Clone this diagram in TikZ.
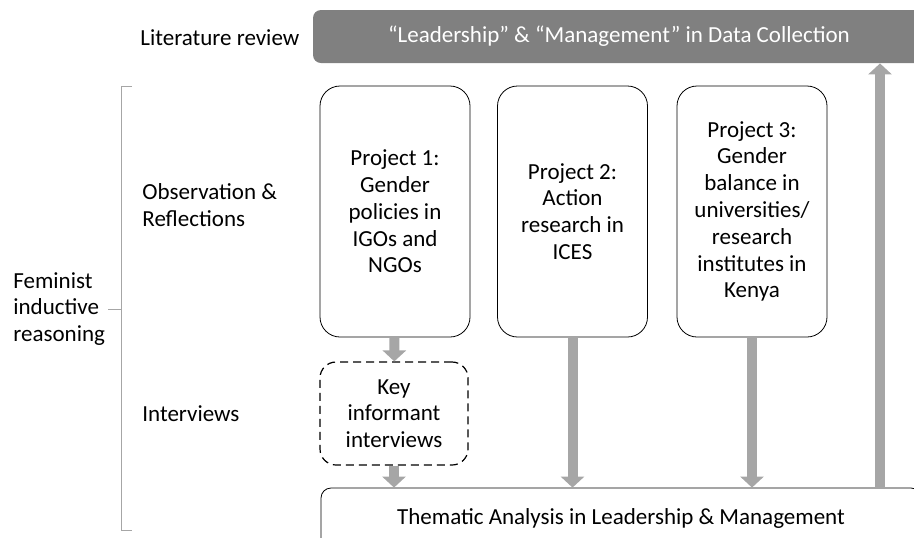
\documentclass[tikz,border=0pt]{standalone}
\usepackage{fontspec}
\setmainfont{Carlito}
\usetikzlibrary{arrows.meta}

\tikzset{
  proj/.style={draw, rounded corners=10pt, minimum width=75pt,
    minimum height=125.5pt, align=center, inner sep=0pt},
  stage/.style={anchor=west, align=left, inner sep=0pt},
  flow/.style={line width=5pt, draw=black!35,
    -{Triangle[width=11.5pt,length=5.5pt]}}
}

\begin{document}
\begin{tikzpicture}[x=0.5pt, y=-0.5pt, font=\fontsize{11.5}{13.4}\selectfont]
  \useasboundingbox (0,0) rectangle (914,537);
  \clip (0,0) rectangle (914,537);

  % top and bottom bands
  \node[fill=black!50, text=white, rounded corners=4pt, minimum width=306pt,
    minimum height=26.5pt, inner sep=0pt] (lit) at (619,36.5)
    {“Leadership” \& “Management” in Data Collection};
  \node[draw, rounded corners=5pt, minimum width=300pt, minimum height=30pt,
    inner sep=0pt] (thema) at (621,518)
    {Thematic Analysis in Leadership \& Management};

  % row labels
  \node[stage] (litrev) at (140,38) {Literature review};
  \node[stage] (obs) at (142,205) {Observation \&\\Reflections};
  \node[stage] (intv) at (142,414) {Interviews};
  \node[stage] (fir) at (13,309) {Feminist\\inductive\\reasoning};

  % projects
  \node[proj] (p1) at (395,211.5) {Project 1:\\Gender\\policies in\\IGOs and\\NGOs};
  \node[proj] (p2) at (572.5,211.5) {Project 2:\\Action\\research in\\ICES};
  \node[proj] (p3) at (752,211.5) {Project 3:\\Gender\\balance in\\universities/\\research\\institutes in\\Kenya};
  \node[proj, dashed, dash pattern=on 4pt off 2.5pt, draw=black, line width=0.6pt,
    rounded corners=8pt, minimum width=74pt, minimum height=51.5pt]
    (kii) at (394,413.5) {Key\\informant\\interviews};

  % bracket
  \draw[black!35] (132,86) -- (121,86) -- (121,530) -- (132,530);
  \draw[black!35] (fir.east -| 108,0) -- (fir.east -| 121,0);

  \coordinate (up) at (880,488);
  \draw[flow] (p1) -- (kii);
  \draw[flow] (kii) -- (kii |- thema.north);
  \draw[flow] (p2) -- (p2 |- thema.north);
  \draw[flow] (p3) -- (p3 |- thema.north);
  \draw[flow] (up) -- (up |- lit.south);
\end{tikzpicture}
\end{document}
